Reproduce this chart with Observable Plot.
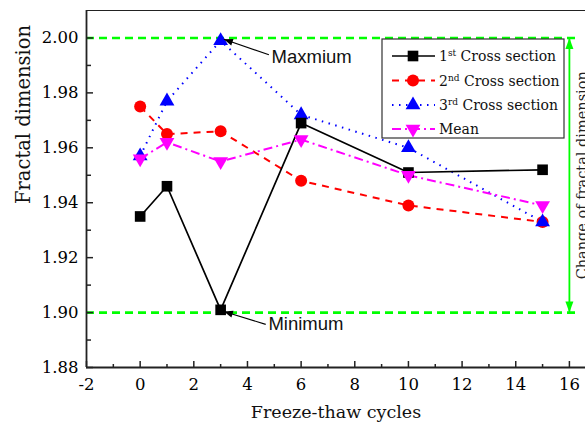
<!DOCTYPE html>
<html><head><meta charset="utf-8">
<script src="https://cdn.jsdelivr.net/npm/d3@7"></script>
<script src="https://cdn.jsdelivr.net/npm/@observablehq/plot@0.6"></script>
<style>
html,body{margin:0;padding:0;background:#fff;}
#chart svg{display:block;}
</style></head><body><div id="chart"></div>
<script>
// ---- data ----
const cycles = [0, 1, 3, 6, 10, 15];
const section1 = [1.935, 1.946, 1.901, 1.969, 1.951, 1.952];
const section2 = [1.975, 1.965, 1.966, 1.948, 1.939, 1.933];
const section3 = [1.957, 1.977, 1.999, 1.972, 1.960, 1.933];
const meanValues = [1.956, 1.962, 1.955, 1.963, 1.950, 1.939];
const legendMain = ["1", "2", "3", "Mean"];
const legendSup = ["st", "nd", "rd", ""];
const legendRest = [" Cross section", " Cross section", " Cross section", ""];
const xTicks = [-2, 0, 2, 4, 6, 8, 10, 12, 14, 16];
const xMinorTicks = [-1, 1, 3, 5, 7, 9, 11, 13, 15];
const yTicks = [1.88, 1.90, 1.92, 1.94, 1.96, 1.98, 2.00];
const yMinorTicks = [1.89, 1.91, 1.93, 1.95, 1.97, 1.99];
const referenceLevels = [1.90, 2.00];
const annotationLabels = ["Maxmium", "Minimum"];
const annotationTextX = [4.9, 4.78];
const annotationTextY = [1.9932, 1.8958];
const annotationArrowFromX = [4.8, 4.68];
const annotationArrowFromY = [1.9939, 1.8957];
const annotationArrowToX = [3.12, 3.12];
const annotationArrowToY = [1.9995, 1.9004];
const rangeLabel = "Change of fractal dimension";
const xLabel = "Freeze-thaw cycles";
const yLabel = "Fractal dimension";

// ---- layout ----
const W = 585, H = 425, mL = 86, mR = 0, mT = 10, mB = 58;
const innerW = W - mL - mR, innerH = H - mT - mB;
const serif = "DejaVu Serif";
const sans = "Liberation Sans";

const invTriangle = {
  draw(ctx, size) {
    const y = -Math.sqrt(size / (Math.sqrt(3) * 3));
    ctx.moveTo(0, -y * 2);
    ctx.lineTo(-Math.sqrt(3) * y, y);
    ctx.lineTo(Math.sqrt(3) * y, y);
    ctx.closePath();
  }
};

const seriesStyles = [
  {values: section1, color: "#000000", dash: null, width: 1.7, symbol: "square", r: 6},
  {values: section2, color: "#ff0000", dash: "7,6", width: 2, symbol: "circle", r: 6},
  {values: section3, color: "#0000ff", dash: "1.5,5.5", width: 2, symbol: "triangle", r: 5.5},
  {values: meanValues, color: "#ff00ff", dash: "9,4,2,4", width: 2, symbol: invTriangle, r: 5.5}
];
const rowsOf = (vals) => cycles.map((c, i) => ({cycles: c, value: vals[i]}));

function filledHead(len, half) {
  return (color, context) => {
    const m = d3.create("svg:marker")
      .attr("viewBox", `${-len - 1} ${-half - 1} ${len + 2} ${2 * half + 2}`)
      .attr("markerWidth", len + 2)
      .attr("markerHeight", 2 * half + 2)
      .attr("markerUnits", "userSpaceOnUse")
      .attr("refX", 0).attr("refY", 0)
      .attr("orient", "auto-start-reverse");
    m.append("path").attr("d", `M0,0L${-len},${-half}L${-len},${half}Z`).attr("fill", color).attr("stroke", "none");
    return m.node();
  };
}

const annotations = annotationLabels.map((label, i) => ({
  label, tx: annotationTextX[i], ty: annotationTextY[i],
  fx: annotationArrowFromX[i], fy: annotationArrowFromY[i],
  ex: annotationArrowToX[i], ey: annotationArrowToY[i]
}));

const lineOrder = [1, 2, 0, 3];

const chart = Plot.plot({
  width: W, height: H,
  marginLeft: mL, marginRight: mR, marginTop: mT, marginBottom: mB,
  style: {fontFamily: serif, background: "#fff", color: "#000"},
  x: {domain: [-2, 16.6], ticks: xTicks},
  y: {domain: [1.88, 2.01], ticks: yTicks},
  marks: [
    // reference levels
    Plot.ruleY(referenceLevels, {x1: -2, x2: 16.3, stroke: "#00ff00", strokeWidth: 2.6, strokeDasharray: "8,5"}),
    Plot.link([referenceLevels], {x1: 16, x2: 16, y1: d => d[0], y2: d => d[1], stroke: "#00ff00", strokeWidth: 1.8,
      markerStart: filledHead(11, 4), markerEnd: filledHead(11, 4)}),
    Plot.text([rangeLabel], {x: 16, y: 1.95, rotate: -90, dx: 7, lineAnchor: "top", fontSize: 14.5, fill: "#222", fontFamily: serif}),
    // series lines
    ...lineOrder.map(k => Plot.line(rowsOf(seriesStyles[k].values), {x: "cycles", y: "value", stroke: seriesStyles[k].color,
      strokeWidth: seriesStyles[k].width, strokeDasharray: seriesStyles[k].dash, strokeLinecap: "butt"})),
    // markers
    ...lineOrder.map(k => Plot.dot(rowsOf(seriesStyles[k].values), {x: "cycles", y: "value", symbol: seriesStyles[k].symbol,
      r: seriesStyles[k].r, fill: seriesStyles[k].color, stroke: "none"})),
    // annotations
    Plot.link(annotations, {x1: "fx", y1: "fy", x2: "ex", y2: "ey", stroke: "#000", strokeWidth: 1.1, markerEnd: filledHead(9, 3.5)}),
    Plot.text(annotations, {x: "tx", y: "ty", text: "label", textAnchor: "start", lineAnchor: "middle", fontFamily: sans, fontSize: 18.5, fill: "#111"}),
    // ticks (inside)
    Plot.tickX(xTicks, {x: d => d, insetTop: innerH - 6, stroke: "#222", strokeWidth: 1.5}),
    Plot.tickX(xMinorTicks, {x: d => d, insetTop: innerH - 3, stroke: "#222", strokeWidth: 1.5}),
    Plot.tickY(yTicks, {y: d => d, insetRight: innerW - 7, stroke: "#222", strokeWidth: 1.5}),
    Plot.tickY(yMinorTicks, {y: d => d, insetRight: innerW - 5, stroke: "#222", strokeWidth: 1.5}),
    // frame lines
    Plot.ruleX([-2], {stroke: "#222", strokeWidth: 1.8}),
    Plot.ruleY([1.88], {stroke: "#222", strokeWidth: 1.8}),
    Plot.ruleY([2.01], {stroke: "#222", strokeWidth: 1.1}),
    // axes
    Plot.axisX({ticks: xTicks, tickSize: 0, tickPadding: 11, fontSize: 16.5, label: null, tickFormat: d => d}),
    Plot.axisY({ticks: yTicks, tickSize: 0, tickPadding: 8, fontSize: 16.5, label: null, tickFormat: d3.format(".2f")}),
    Plot.text([xLabel], {frameAnchor: "bottom", dy: 45, lineAnchor: "middle", fontSize: 17.5, fill: "#111", fontFamily: serif}),
    Plot.text([yLabel], {frameAnchor: "left", dx: -63, dy: 15, rotate: -90, lineAnchor: "middle", fontSize: 19.5, fill: "#111", fontFamily: serif})
  ]
});

// ---- legend ----
const svg = d3.select(chart);
const lg = svg.append("g").attr("class", "legend").attr("text-anchor", "start");
const bx = 382, by = 39, bw = 182, bh = 99;
lg.append("rect").attr("x", bx).attr("y", by).attr("width", bw).attr("height", bh)
  .attr("fill", "#fff").attr("stroke", "#333").attr("stroke-width", 1.2);
const rowY = [56, 80.5, 105, 129];
seriesStyles.forEach((s, i) => {
  const y = rowY[i];
  lg.append("line").attr("x1", 392).attr("x2", 435).attr("y1", y).attr("y2", y)
    .attr("stroke", s.color).attr("stroke-width", s.width).attr("stroke-dasharray", s.dash);
  const sym = typeof s.symbol === "string" ? {square: d3.symbolSquare, circle: d3.symbolCircle, triangle: d3.symbolTriangle}[s.symbol] : s.symbol;
  lg.append("path").attr("transform", `translate(413,${y})`)
    .attr("d", d3.symbol(sym, Math.PI * s.r * s.r)()).attr("fill", s.color);
  const t = lg.append("text").attr("x", 439).attr("y", y + 5).attr("text-anchor", "start")
    .attr("font-family", serif).attr("font-size", 14).attr("fill", "#111");
  t.append("tspan").text(legendMain[i]);
  if (legendSup[i]) {
    t.append("tspan").attr("dy", -5).attr("font-size", 9).text(legendSup[i]);
    t.append("tspan").attr("dy", 5).text(legendRest[i]);
  }
});

document.getElementById("chart").appendChild(chart);
</script>
</body></html>
